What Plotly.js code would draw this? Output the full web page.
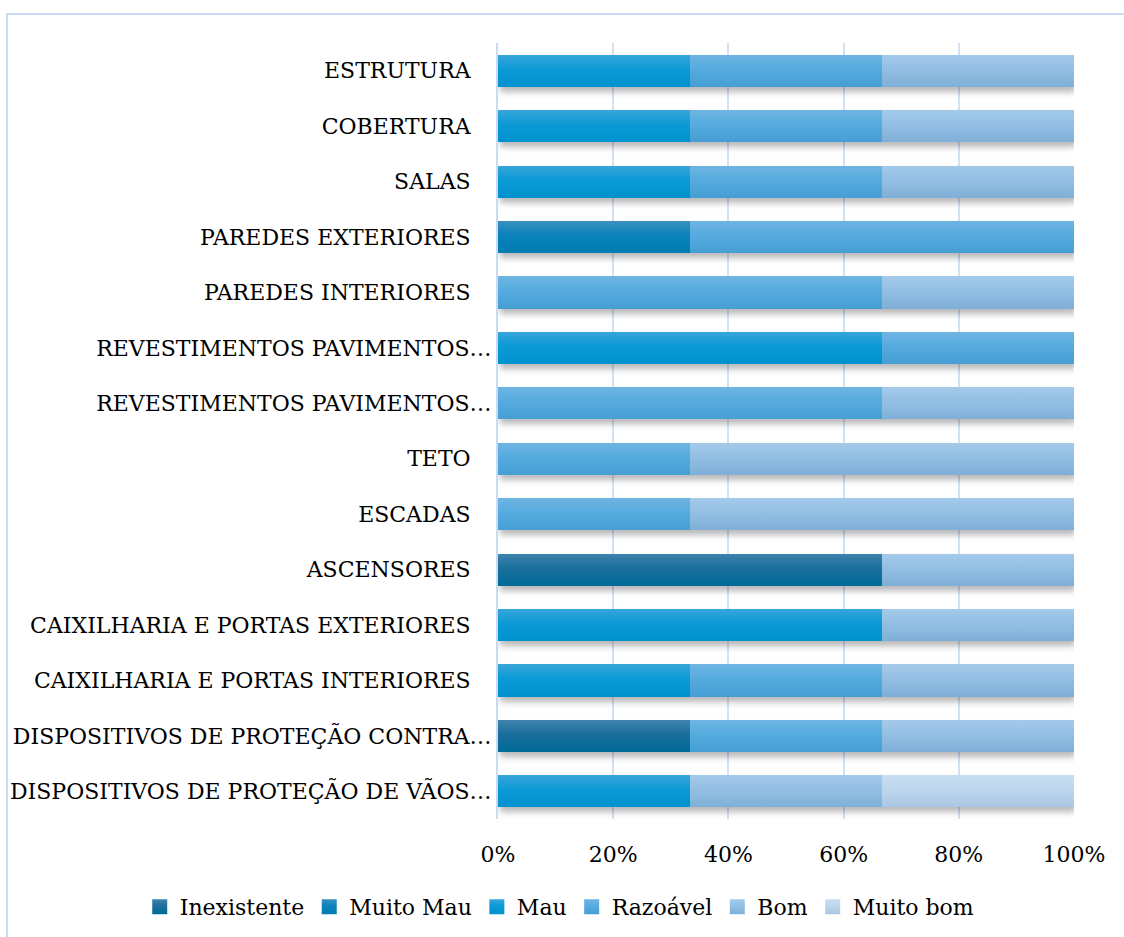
<!DOCTYPE html>
<html>
<head>
<meta charset="utf-8">
<script src="https://cdn.plot.ly/plotly-3.0.1.min.js"></script>
<style>
html,body{margin:0;padding:0;background:#fff;overflow:hidden;}
#wrap{position:relative;width:1124px;height:937px;}
#chart{position:absolute;left:0;top:0;width:1124px;height:937px;}
#frame{position:absolute;left:6px;top:13px;width:1130px;height:940px;border:2px solid #c9dbf0;box-sizing:border-box;pointer-events:none;}
#chart .barlayer{filter: drop-shadow(2px 5px 3px rgba(0,0,0,0.28));}
</style>
</head>
<body>
<div id="wrap"><div id="chart"></div><div id="frame"></div></div>
<script>
const categories = [
  "ESTRUTURA",
  "COBERTURA",
  "SALAS",
  "PAREDES EXTERIORES",
  "PAREDES INTERIORES",
  "REVESTIMENTOS PAVIMENTOS…",
  "REVESTIMENTOS PAVIMENTOS…",
  "TETO",
  "ESCADAS",
  "ASCENSORES",
  "CAIXILHARIA E PORTAS EXTERIORES",
  "CAIXILHARIA E PORTAS INTERIORES",
  "DISPOSITIVOS DE PROTEÇÃO CONTRA…",
  "DISPOSITIVOS DE PROTEÇÃO DE VÃOS…"
];
const seriesNames = ["Inexistente", "Muito Mau", "Mau", "Razoável", "Bom", "Muito bom"];
const inexistente = [0, 0, 0, 0, 0, 0, 0, 0, 0, 66.67, 0, 0, 33.33, 0];
const muitoMau    = [0, 0, 0, 33.33, 0, 0, 0, 0, 0, 0, 0, 0, 0, 0];
const mau         = [33.33, 33.33, 33.33, 0, 0, 66.67, 0, 0, 0, 0, 66.67, 33.33, 0, 33.33];
const razoavel    = [33.33, 33.33, 33.33, 66.67, 66.67, 33.33, 66.67, 33.33, 33.33, 0, 0, 33.33, 33.33, 0];
const bom         = [33.33, 33.33, 33.33, 0, 33.33, 0, 33.33, 66.67, 66.67, 33.33, 33.33, 33.33, 33.33, 33.33];
const muitoBom    = [0, 0, 0, 0, 0, 0, 0, 0, 0, 0, 0, 0, 0, 33.33];
const xTickVals = [0, 20, 40, 60, 80, 100];
const xTickLabels = ["0%", "20%", "40%", "60%", "80%", "100%"];

const seriesValues = [inexistente, muitoMau, mau, razoavel, bom, muitoBom];
const colors = ["#1a6f9c", "#0a82b9", "#0b9ad5", "#56abdf", "#93bfe4", "#bdd6ed"];
const gradTop = ["#4084ad", "#3a90c0", "#38a6da", "#6eb5e2", "#a4cae9", "#c8ddf0"];
const gradBot = ["#006a98", "#007cb2", "#0092ce", "#459ed4", "#7fafd7", "#a9c6e3"];
const positions = categories.map((c, i) => i);
const tickText = categories.map(c => c.endsWith("…") ? c : c + "\u00a0\u00a0\u00a0");

const FONT = "DejaVu Serif";
const traces = seriesNames.map((name, k) => ({
  type: "bar",
  orientation: "h",
  name: name,
  x: seriesValues[k],
  y: positions,
  marker: {color: colors[k], line: {width: 0}},
  hoverinfo: "skip"
}));

const layout = {
  width: 1124,
  height: 937,
  paper_bgcolor: "#ffffff",
  plot_bgcolor: "#ffffff",
  barmode: "stack",
  bargap: 0.42,
  margin: {l: 498, r: 50, t: 43, b: 118, autoexpand: false},
  font: {family: FONT, size: 22, color: "#000000"},
  xaxis: {
    range: [0, 100],
    tickvals: xTickVals,
    ticktext: xTickLabels,
    showgrid: true,
    gridcolor: "#d3e2f3",
    gridwidth: 2,
    zeroline: false,
    showline: false,
    ticks: "",
    ticklabelstandoff: 20,
    tickfont: {family: FONT, size: 22, color: "#000000"},
    fixedrange: true
  },
  yaxis: {
    range: [13.5, -0.5],
    tickvals: positions,
    ticktext: tickText,
    showgrid: false,
    zeroline: false,
    showline: true,
    linecolor: "#c9dbf0",
    linewidth: 2,
    ticks: "",
    ticklabelstandoff: 0,
    tickfont: {family: FONT, size: 22, color: "#000000"},
    fixedrange: true
  },
  showlegend: true,
  legend: {
    orientation: "h",
    x: -0.622,
    xanchor: "left",
    y: -0.1134,
    yanchor: "middle",
    traceorder: "normal",
    font: {family: FONT, size: 22, color: "#000000"},
    bgcolor: "rgba(0,0,0,0)"
  }
};

Plotly.newPlot("chart", traces, layout, {displayModeBar: false, staticPlot: true}).then(gd => {
  const svg = gd.querySelector(".main-svg");
  const NS = "http://www.w3.org/2000/svg";
  const defs = document.createElementNS(NS, "defs");
  colors.forEach((c, k) => {
    const lg = document.createElementNS(NS, "linearGradient");
    lg.setAttribute("id", "barGrad" + k);
    lg.setAttribute("x1", "0"); lg.setAttribute("y1", "0");
    lg.setAttribute("x2", "0"); lg.setAttribute("y2", "1");
    [[0, gradTop[k]], [0.45, c], [1, gradBot[k]]].forEach(([o, col]) => {
      const s = document.createElementNS(NS, "stop");
      s.setAttribute("offset", o);
      s.setAttribute("stop-color", col);
      lg.appendChild(s);
    });
    defs.appendChild(lg);
  });
  svg.insertBefore(defs, svg.firstChild);
  gd.querySelectorAll(".barlayer .trace").forEach((g, k) => {
    g.querySelectorAll("path").forEach(p => { p.style.fill = "url(#barGrad" + k + ")"; });
  });
  gd.querySelectorAll(".legend .traces").forEach((g, k) => {
    g.querySelectorAll(".legendpoints path").forEach(p => {
      p.setAttribute("d", "M7.5,7.5H-7.5V-7.5H7.5Z");
      p.style.fill = "url(#barGrad" + k + ")";
    });
  });
});
</script>
</body>
</html>
